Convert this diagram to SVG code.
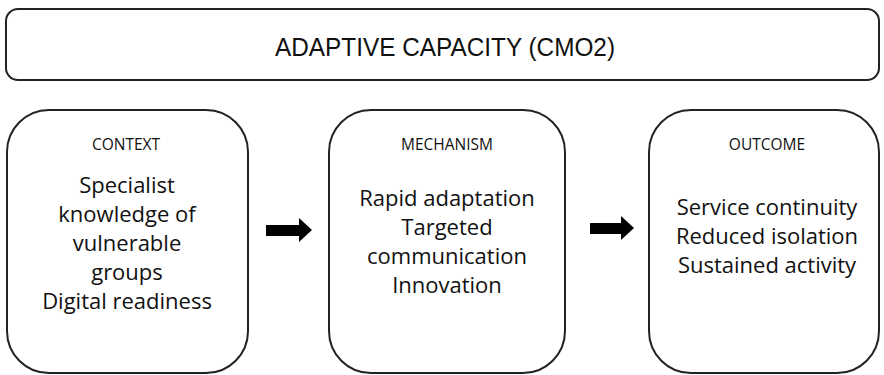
<svg xmlns="http://www.w3.org/2000/svg" width="884" height="375" viewBox="0 0 884 375">
<style>
.box{fill:#fff;stroke:#222;stroke-width:2}
.lbl{font-family:"Open Sans","Liberation Sans",Arial,sans-serif;font-size:15.5px;fill:#111;text-anchor:middle}
.body{font-family:"Open Sans","Liberation Sans",Arial,sans-serif;font-size:22px;fill:#111;text-anchor:middle}
.title{font-family:"Liberation Sans",Arial,sans-serif;font-size:26px;fill:#111;text-anchor:middle}
.arr{fill:#000}
</style>
<rect width="884" height="375" fill="#fff"/>
<g id="title">
<rect class="box" x="6" y="9" width="873" height="71" rx="12"/>
<text class="title" x="445" y="56" textLength="340" lengthAdjust="spacingAndGlyphs">ADAPTIVE CAPACITY (CMO2)</text>
</g>
<g id="context">
<rect class="box" x="7" y="110" width="241" height="263" rx="42"/>
<text class="lbl" x="126" y="150">CONTEXT</text>
<text class="body" x="127" y="193">Specialist</text>
<text class="body" x="127" y="222">knowledge of</text>
<text class="body" x="127" y="251">vulnerable</text>
<text class="body" x="127" y="280">groups</text>
<text class="body" x="127" y="309">Digital readiness</text>
</g>
<g id="mechanism">
<rect class="box" x="329" y="110" width="236" height="263" rx="42"/>
<text class="lbl" x="447" y="150">MECHANISM</text>
<text class="body" x="447" y="206">Rapid adaptation</text>
<text class="body" x="447" y="235">Targeted</text>
<text class="body" x="447" y="264">communication</text>
<text class="body" x="447" y="293">Innovation</text>
</g>
<g id="outcome">
<rect class="box" x="649" y="110" width="230" height="263" rx="42"/>
<text class="lbl" x="767" y="150">OUTCOME</text>
<text class="body" x="767" y="215">Service continuity</text>
<text class="body" x="767" y="244">Reduced isolation</text>
<text class="body" x="767" y="273">Sustained activity</text>
</g>
<g id="connectors">
<polygon class="arr" points="266,225 299,225 299,218 312,230 299,242 299,236 266,236"/>
<polygon class="arr" points="590,223 621,223 621,216 634,228 621,240 621,234 590,234"/>
</g>
</svg>
